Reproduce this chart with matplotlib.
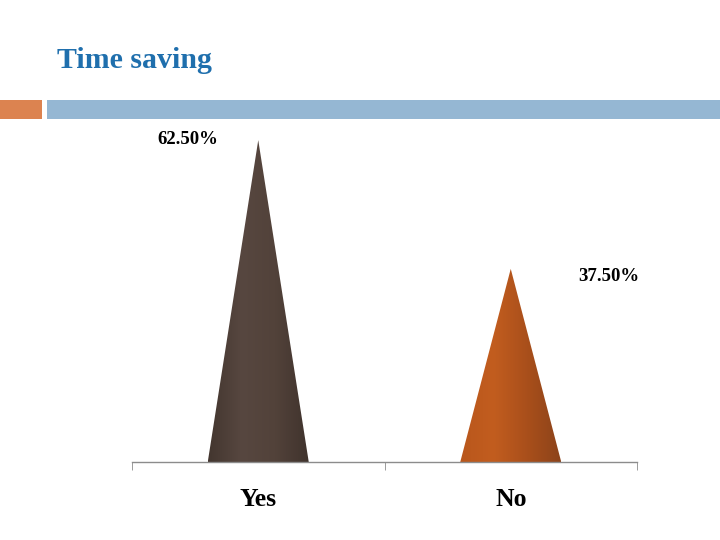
import matplotlib
matplotlib.use("Agg")
import matplotlib.pyplot as plt
import numpy as np
from matplotlib.patches import Polygon, Rectangle
from matplotlib.colors import LinearSegmentedColormap

categories = ["Yes", "No"]
values = [62.5, 37.5]
value_labels = ["62.50%", "37.50%"]
title = "Time saving"

W, H = 720, 540
fig = plt.figure(figsize=(7.2, 5.4), dpi=100)
fig.patch.set_facecolor("white")

serif = ["Liberation Serif", "DejaVu Serif"]

# Title and decorative bars
fig.text(57 / W, 1 - 68 / H, title, fontsize=21.5, fontweight="bold",
         color="#1f6fad", family=serif, ha="left", va="baseline")
fig.add_artist(Rectangle((0, 1 - 119 / H), 42 / W, 19 / H, transform=fig.transFigure,
                         facecolor="#dc8350", edgecolor="none"))
fig.add_artist(Rectangle((47 / W, 1 - 119 / H), 1 - 47 / W, 19 / H, transform=fig.transFigure,
                         facecolor="#95b7d3", edgecolor="none"))

# Axes
left, right = 132 / W, 637 / W
bottom = 1 - 462 / H
ymax = 70
px_per_unit = 5.15
top_px = 462 - ymax * px_per_unit
ax = fig.add_axes([left, bottom, right - left, (462 - top_px) / H])
ax.set_xlim(-0.5, 1.5)
ax.set_ylim(0, ymax)
for s in ["top", "left", "right"]:
    ax.spines[s].set_visible(False)
ax.spines["bottom"].set_color("#8c8c8c")
ax.spines["bottom"].set_linewidth(1.0)
ax.set_yticks([])
x = np.arange(len(categories))
ax.set_xticks(x)
ax.set_xticklabels(categories, fontsize=18.5, fontweight="bold", family=serif)
ax.tick_params(axis="x", which="major", length=0, pad=19)
ax.set_xticks([-0.5, 0.5, 1.5], minor=True)
ax.tick_params(axis="x", which="minor", length=6, color="#8c8c8c", direction="out")

cmaps = [
    LinearSegmentedColormap.from_list("yes", ["#43362f", "#574740", "#52423a", "#40332d"]),
    LinearSegmentedColormap.from_list("no", ["#b9571c", "#c25d1f", "#a94f1b", "#8c431a"]),
]
half = 0.2
grad = np.linspace(0, 1, 256).reshape(1, -1)
for i, (xi, v) in enumerate(zip(x, values)):
    poly = Polygon([(xi - half, 0), (xi, v), (xi + half, 0)], closed=True,
                   facecolor="none", edgecolor="none")
    ax.add_patch(poly)
    im = ax.imshow(grad, cmap=cmaps[i], aspect="auto",
                   extent=(xi - half, xi + half, 0, v), interpolation="bicubic", zorder=2)
    im.set_clip_path(poly)

# value labels
ax.text(x[0] - 0.28, values[0] + 0.2, value_labels[0], fontsize=13.5, fontweight="bold",
        family=serif, ha="center", va="center")
ax.text(x[1] + 0.39, values[1] - 1.4, value_labels[1], fontsize=13.5, fontweight="bold",
        family=serif, ha="center", va="center")
ax.set_ylim(0, ymax)
ax.set_xlim(-0.5, 1.5)

fig.savefig("out.png", dpi=100, facecolor="white")
